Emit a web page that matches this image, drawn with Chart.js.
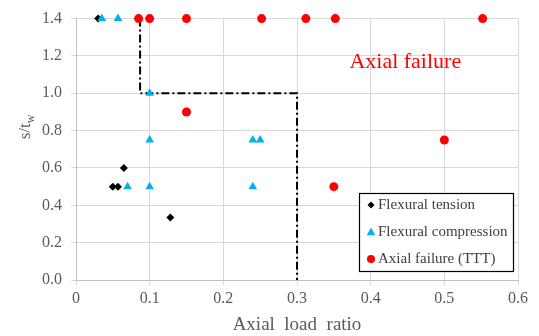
<!DOCTYPE html>
<html>
<head>
<meta charset="utf-8">
<script src="https://cdn.jsdelivr.net/npm/chart.js@4.4.1/dist/chart.umd.min.js"></script>
<style>
  html, body { margin: 0; padding: 0; background: #fff; }
  #wrap { width: 539px; height: 336px; position: relative; }
</style>
</head>
<body>
<div id="wrap"><canvas id="chart"></canvas></div>
<script>
// Data
const tensionX = [0.03, 0.05, 0.057, 0.065, 0.128];
const tensionY = [1.4, 0.5, 0.5, 0.6, 0.335];

const compressionX = [0.035, 0.057, 0.1, 0.07, 0.1, 0.1, 0.24, 0.25, 0.24, 0.15];
const compressionY = [1.4, 1.4, 1.0, 0.5, 0.75, 0.5, 0.75, 0.75, 0.5, 0.9];

const axialX = [0.085, 0.1, 0.15, 0.252, 0.312, 0.352, 0.552, 0.15, 0.5, 0.35];
const axialY = [1.4, 1.4, 1.4, 1.4, 1.4, 1.4, 1.4, 0.9, 0.75, 0.5];

// Boundary (dash-dot) between flexural and axial failure
const boundaryX = [0.087, 0.087, 0.3, 0.3];
const boundaryY = [1.4, 1.0, 1.0, 0.0];

const xTicks = ['0', '0.1', '0.2', '0.3', '0.4', '0.5', '0.6'];
const yTicks = ['0.0', '0.2', '0.4', '0.6', '0.8', '1.0', '1.2', '1.4'];

const legendLabels = ['Flexural tension', 'Flexural compression', 'Axial failure (TTT)'];

const SERIF = '"Liberation Serif", "Times New Roman", serif';
const GRAY = '#595959';

function toPoints(xs, ys) {
    return xs.map((x, i) => ({ x: x, y: ys[i] }));
}

// Helper to draw a marker the same way for the legend
function drawMarker(ctx, style, x, y, r, color) {
    ctx.save();
    ctx.fillStyle = color;
    ctx.beginPath();
    if (style === 'rectRot') {
        ctx.moveTo(x, y - r);
        ctx.lineTo(x + r, y);
        ctx.lineTo(x, y + r);
        ctx.lineTo(x - r, y);
    } else if (style === 'triangle') {
        ctx.moveTo(x, y - r);
        ctx.lineTo(x + r * 0.95, y + r * 0.7);
        ctx.lineTo(x - r * 0.95, y + r * 0.7);
    } else {
        ctx.arc(x, y, r, 0, Math.PI * 2);
    }
    ctx.closePath();
    ctx.fill();
    ctx.restore();
}

// Extra drawing: y title with subscript, "Axial failure" label, legend box
const annotations = {
    id: 'annotations',
    afterDraw(chart) {
        const ctx = chart.ctx;
        const xs = chart.scales.x;
        const ys = chart.scales.y;

        // y axis title s/t_w
        ctx.save();
        ctx.translate(26, 127);
        ctx.rotate(-Math.PI / 2);
        ctx.fillStyle = GRAY;
        ctx.textBaseline = 'middle';
        ctx.font = '17px ' + SERIF;
        const main = 's/t';
        const mw = ctx.measureText(main).width;
        ctx.font = '12px ' + SERIF;
        const sw = ctx.measureText('w').width;
        const start = -(mw + sw) / 2;
        ctx.font = '17px ' + SERIF;
        ctx.textAlign = 'left';
        ctx.fillText(main, start, 0);
        ctx.font = '12px ' + SERIF;
        ctx.fillText('w', start + mw, 5);
        ctx.restore();

        // "Axial failure" region label
        ctx.save();
        ctx.fillStyle = '#ff0000';
        ctx.font = '22px ' + SERIF;
        ctx.textAlign = 'center';
        ctx.textBaseline = 'middle';
        ctx.fillText('Axial failure', xs.getPixelForValue(0.447), ys.getPixelForValue(1.168));
        ctx.restore();

        // legend box
        const bx = 359, by = 193, bw = 154, bh = 78;
        ctx.save();
        ctx.fillStyle = '#ffffff';
        ctx.fillRect(bx, by, bw, bh);
        ctx.strokeStyle = '#000000';
        ctx.lineWidth = 1.2;
        ctx.strokeRect(bx + 0.5, by + 0.5, bw, bh);
        const styles = ['rectRot', 'triangle', 'circle'];
        const colors = ['#000000', '#00b0f0', '#ff0000'];
        const radii = [3.5, 4.5, 4];
        ctx.font = '15px ' + SERIF;
        ctx.textBaseline = 'middle';
        ctx.textAlign = 'left';
        legendLabels.forEach((label, i) => {
            const yy = by + 12 + i * 27;
            drawMarker(ctx, styles[i], bx + 12, yy, radii[i], colors[i]);
            ctx.fillStyle = '#404040';
            ctx.fillText(label, bx + 19, yy);
        });
        ctx.restore();
    }
};

const chart = new Chart(document.getElementById('chart'), {
    type: 'scatter',
    data: {
        datasets: [
            {
                label: 'Boundary',
                type: 'line',
                data: toPoints(boundaryX, boundaryY),
                borderColor: '#000000',
                borderWidth: 2,
                borderDash: [8, 3, 2, 3],
                pointRadius: 0,
                fill: false,
                tension: 0,
                order: 4
            },
            {
                label: legendLabels[0],
                data: toPoints(tensionX, tensionY),
                pointStyle: 'rectRot',
                pointRadius: 4,
                backgroundColor: '#000000',
                borderColor: '#000000',
                borderWidth: 0,
                clip: false,
                order: 3
            },
            {
                label: legendLabels[1],
                data: toPoints(compressionX, compressionY),
                pointStyle: 'triangle',
                pointRadius: 5,
                backgroundColor: '#00b0f0',
                borderColor: '#00b0f0',
                borderWidth: 0,
                clip: false,
                order: 2
            },
            {
                label: legendLabels[2],
                data: toPoints(axialX, axialY),
                pointStyle: 'circle',
                pointRadius: 4.5,
                backgroundColor: '#ff0000',
                borderColor: '#ff0000',
                borderWidth: 0,
                clip: false,
                order: 1
            }
        ]
    },
    options: {
        responsive: true,
        maintainAspectRatio: false,
        animation: false,
        layout: { padding: { top: 17, right: 21, left: 0, bottom: 0 } },
        plugins: {
            legend: { display: false },
            tooltip: { enabled: false }
        },
        scales: {
            x: {
                type: 'linear',
                min: 0,
                max: 0.6,
                ticks: {
                    stepSize: 0.1,
                    color: GRAY,
                    padding: 4,
                    font: { family: SERIF, size: 16 },
                    callback: (v) => xTicks[Math.round(v * 10)]
                },
                grid: { color: '#d9d9d9', tickLength: 5, lineWidth: 1 },
                border: { color: '#bfbfbf' },
                title: {
                    display: true,
                    text: 'Axial  load  ratio',
                    color: GRAY,
                    font: { family: SERIF, size: 19 },
                    padding: { top: 0, bottom: 0 }
                },
                afterFit: (scale) => { scale.height = 56; }
            },
            y: {
                type: 'linear',
                min: 0,
                max: 1.4,
                ticks: {
                    stepSize: 0.2,
                    color: GRAY,
                    padding: 9,
                    font: { family: SERIF, size: 16 },
                    callback: (v) => yTicks[Math.round(v * 5)]
                },
                grid: { color: '#d9d9d9', tickLength: 5, lineWidth: 1 },
                border: { color: '#bfbfbf' },
                afterFit: (scale) => { scale.width = 76; }
            }
        }
    },
    plugins: [annotations]
});
</script>
</body>
</html>
